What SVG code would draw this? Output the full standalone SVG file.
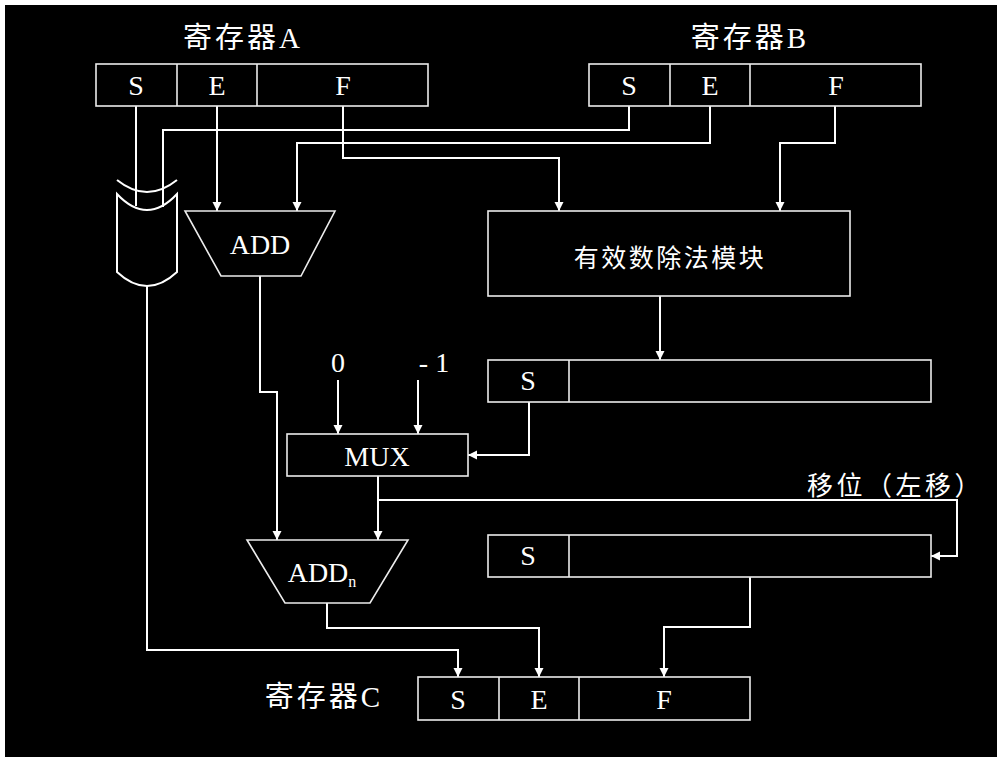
<svg xmlns="http://www.w3.org/2000/svg" width="997" height="757" viewBox="0 0 997 757">
<defs>
<marker id="ah" viewBox="0 0 10 10" refX="10" refY="5" markerWidth="9" markerHeight="10" markerUnits="userSpaceOnUse" orient="auto">
<path d="M0,0 L10,5 L0,10 z" fill="#ffffff"/>
</marker>
<style>
.box{fill:none;stroke:#ececec;stroke-width:1.6}
.ln{fill:none;stroke:#ffffff;stroke-width:2}
.ar{fill:none;stroke:#ffffff;stroke-width:2;marker-end:url(#ah)}
.t{fill:#ffffff;font-family:"Liberation Serif","Noto Sans CJK SC",serif;font-size:28px;text-anchor:middle}
.ti{fill:#ffffff;font-family:"Liberation Serif","Noto Sans CJK SC",serif;font-size:29px;letter-spacing:3px;text-anchor:middle}
.cj{fill:#ffffff;font-family:"Noto Sans CJK SC",sans-serif}
</style>
</defs>
<rect x="0" y="0" width="997" height="757" fill="#ffffff"/>
<rect x="5" y="5" width="992" height="752" fill="#000000"/>

<g id="connectors">
<path class="ln" d="M136,106 V206"/>
<path class="ln" d="M629,106 V130 H163 V207"/>
<path class="ar" d="M217,106 V211"/>
<path class="ar" d="M710,106 V143 H297 V211"/>
<path class="ar" d="M343,106 V158 H559 V211"/>
<path class="ar" d="M835,106 V143 H780 V211"/>
<path class="ar" d="M660,296 V360"/>
<path class="ar" d="M529,402 V455 H468"/>
<path class="ar" d="M338,380 V434"/>
<path class="ar" d="M418,380 V434"/>
<path class="ar" d="M260,276 V392 H277 V540"/>
<path class="ar" d="M378,476 V540"/>
<path class="ar" d="M378,500 H957 V556 H931"/>
<path class="ar" d="M327,603 V628 H539 V677"/>
<path class="ar" d="M147,286 V650 H458 V677"/>
<path class="ar" d="M750,577 V627 H664 V677"/>
</g>

<g id="regA">
<text class="ti" x="243" y="48">寄存器A</text>
<rect class="box" x="96" y="64" width="332" height="42"/>
<path class="box" d="M177,64 V106 M257,64 V106"/>
<text class="t" x="136" y="95">S</text>
<text class="t" x="217" y="95">E</text>
<text class="t" x="343" y="95">F</text>
</g>

<g id="regB">
<text class="ti" x="750" y="48">寄存器B</text>
<rect class="box" x="589" y="64" width="332" height="42"/>
<path class="box" d="M670,64 V106 M750,64 V106"/>
<text class="t" x="629" y="95">S</text>
<text class="t" x="710" y="95">E</text>
<text class="t" x="836" y="95">F</text>
</g>

<g id="xorGate">
<path class="ln" d="M117,180 Q147,204 177,180"/>
<path class="ln" d="M117,194 Q147,226 177,194 L177,272 Q147,300 117,272 Z"/>
</g>

<g id="add">
<path class="box" d="M185,211 H335 L301,276 H221 Z"/>
<text class="t" x="260" y="254" font-size="26">ADD</text>
</g>

<g id="divider">
<rect class="box" x="488" y="211" width="362" height="85"/>
<text class="cj" x="670" y="267" font-size="25" letter-spacing="2.5" text-anchor="middle">有效数除法模块</text>
</g>

<g id="reg1">
<rect class="box" x="488" y="360" width="443" height="42"/>
<path class="box" d="M569,360 V402"/>
<text class="t" x="528" y="390">S</text>
</g>

<g id="consts">
<text class="t" x="338" y="372">0</text>
<text class="t" x="434" y="372">- 1</text>
</g>

<g id="mux">
<rect class="box" x="287" y="434" width="181" height="42"/>
<text class="t" x="377" y="466" font-size="27">MUX</text>
</g>

<g id="shiftLabel">
<text class="cj" x="807" y="495" font-size="26" letter-spacing="3.5">移位（左移）</text>
</g>

<g id="reg2">
<rect class="box" x="488" y="535" width="443" height="42"/>
<path class="box" d="M569,535 V577"/>
<text class="t" x="528" y="565">S</text>
</g>

<g id="addn">
<path class="box" d="M247,540 H408 L370,603 H285 Z"/>
<text class="t" x="322" y="582" font-size="26">ADD<tspan font-size="16" dy="5">n</tspan></text>
</g>

<g id="regC">
<text class="ti" x="324" y="707">寄存器C</text>
<rect class="box" x="418" y="677" width="332" height="43"/>
<path class="box" d="M499,677 V720 M579,677 V720"/>
<text class="t" x="458" y="709">S</text>
<text class="t" x="539" y="709">E</text>
<text class="t" x="664" y="709">F</text>
</g>
</svg>
